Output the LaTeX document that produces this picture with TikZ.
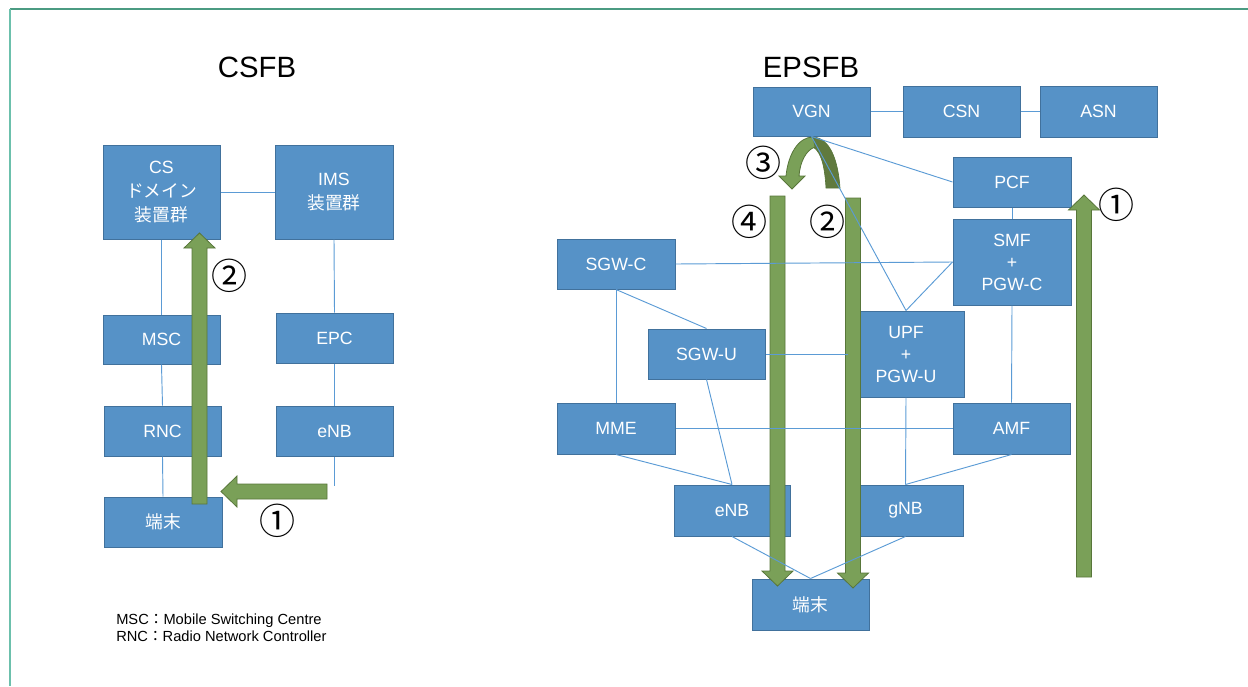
\documentclass[tikz,border=0pt]{standalone}
\usepackage{fontspec}
\setmainfont{Liberation Sans}
\newfontfamily\jp{Noto Sans CJK JP}
\usetikzlibrary{calc}

\definecolor{boxfill}{RGB}{86,146,199}
\definecolor{boxline}{RGB}{65,113,156}
\definecolor{link}{RGB}{91,155,213}
\definecolor{arrfill}{RGB}{122,160,88}
\definecolor{arrline}{RGB}{88,118,58}
\definecolor{arrdark}{RGB}{96,122,62}
\definecolor{frametop}{RGB}{75,155,130}
\definecolor{frameleft}{RGB}{108,192,172}

\tikzset{
  box/.style={draw=boxline, line width=0.75pt, fill=boxfill, text=white,
    font=\fontsize{13.3}{16.5}\selectfont, align=center, inner sep=0pt},
  sz/.style 2 args={minimum width=#1*0.75pt, minimum height=#2*0.75pt},
  link/.style={draw=link, line width=0.7pt},
  fat/.style={fill=arrfill, draw=arrline, line width=0.6pt, line join=miter},
  num/.style={font=\jp\fontsize{27}{27}\selectfont, inner sep=0pt},
  title/.style={font=\fontsize{22}{22}\selectfont, inner sep=0pt},
}

% vertical block arrow: x, tail y, tip y
\newcommand\vfat[3]{%
  \filldraw[fat] ({#1-7.5},#2) -- ({#1-7.5},{#3-15*sign(#3-#2)})
    -- ({#1-15.5},{#3-15*sign(#3-#2)}) -- (#1,#3)
    -- ({#1+15.5},{#3-15*sign(#3-#2)}) -- ({#1+7.5},{#3-15*sign(#3-#2)})
    -- ({#1+7.5},#2) -- cycle;}

\begin{document}
\begin{tikzpicture}[x=0.75pt,y=-0.75pt]
\useasboundingbox (0,0) rectangle (1248,686);

% frame
\draw[frametop, line width=1.2pt] (10,9) -- (1248,9);
\draw[frameleft, line width=1.2pt] (10,9) -- (10,686);

% titles
\node[title] (tcs) at (257,67) {CSFB};
\node[title] (teps) at (811,67) {EPSFB};

% ---------- CSFB ----------
\node[box, sz={117}{94}, font=\fontsize{13.3}{18}\selectfont] (cs) at (161.5,192) {CS\\{\jp ドメイン}\\{\jp 装置群}};
\node[box, sz={118}{94}, font=\fontsize{13.3}{18}\selectfont] (ims) at (334,192) {IMS\\{\jp 装置群}};
\node[box, sz={117}{49}] (msc) at (161.5,339.5) {MSC};
\node[box, sz={117}{50}] (epc) at (334.5,338) {EPC};
\node[box, sz={117}{50}] (rnc) at (162.5,431) {RNC};
\node[box, sz={117}{50}] (enba) at (334.5,431) {eNB};
\node[box, sz={118}{50}] (uea) at (163,522) {\jp 端末};
\coordinate (enbaend) at (334.5,486);

% ---------- EPSFB ----------
\node[box, sz={117}{49}] (vgn) at (811.5,111.5) {VGN};
\node[box, sz={117}{51}] (csn) at (961.5,111.5) {CSN};
\node[box, sz={117}{51}] (asn) at (1098.5,111.5) {ASN};
\node[box, sz={118}{50}] (pcf) at (1012,182) {PCF};
\node[box, sz={118}{86}] (smf) at (1012,262) {SMF\\+\\PGW-C};
\node[box, sz={118}{50}] (sgwc) at (616,264) {SGW-C};
\node[box, sz={117}{50}] (sgwu) at (706.5,354) {SGW-U};
\node[box, sz={116}{86}] (upf) at (906,354) {UPF\\+\\PGW-U};
\node[box, sz={118}{51}] (mme) at (616,428.5) {MME};
\node[box, sz={117}{51}] (amf) at (1011.5,428.5) {AMF};
\node[box, sz={116}{51}] (enbb) at (732,510.5) {eNB};
\node[box, sz={115}{51}] (gnb) at (905.5,510.5) {gNB};
\node[box, sz={117}{51}] (ueb) at (810.5,604.5) {\jp 端末};

% ---------- block arrows ----------
% CSFB (1): horizontal, pointing left
\filldraw[fat] (327,484) -- (237,484) -- (237,476) -- (221,491.5)
  -- (237,507) -- (237,499) -- (327,499) -- cycle;
% CSFB (2)
\vfat{199.5}{504}{233}
% EPSFB (4), (2), (1)
\vfat{777.5}{196}{586}
\vfat{853}{198}{588}
\vfat{1084}{577}{195}
% EPSFB (3): curved arrow below VGN
\filldraw[fill=arrdark, draw=arrline, line width=0.5pt]
  (813,137) .. controls (830,138) and (838,160) .. (840,188)
  -- (826,188) .. controls (825,170) and (822,152) .. (813,147) -- cycle;
\filldraw[fat]
  (792,189) -- (779,176) -- (786,176)
  .. controls (788,155) and (798,137) .. (813,137)
  -- (815,147) .. controls (806,150) and (800,162) .. (799,176)
  -- (805,176) -- cycle;

% ---------- connectors ----------
\draw[link] (cs.east) -- (ims.west);
\draw[link] (cs.south) -- (msc.north);
\draw[link] (msc.south) -- (rnc.north);
\draw[link] (rnc.south) -- (uea.north);
\draw[link] (ims.south) -- (epc.north);
\draw[link] (epc.south) -- (enba.north);
\draw[link] (enba.south) -- (enbaend);

\draw[link] (vgn.east) -- (csn.west);
\draw[link] (csn.east) -- (asn.west);
\draw[link] (vgn.south) -- (pcf.west);
\draw[link] (vgn.south) -- (upf.north);
\draw[link] (smf.west) -- (upf.north);
\draw[link] (sgwc.east) -- (smf.west);
\draw[link] (pcf.south) -- (smf.north);
\draw[link] (smf.south) -- (amf.north);
\draw[link] (sgwc.south) -- (sgwu.north);
\draw[link] (sgwc.south) -- (mme.north);
\draw[link] (sgwu.east) -- (upf.west);
\draw[link] (sgwu.south) -- (enbb.north);
\draw[link] (mme.east) -- (amf.west);
\draw[link] (mme.south) -- (enbb.north);
\draw[link] (upf.south) -- (gnb.north);
\draw[link] (amf.south) -- (gnb.north);
\draw[link] (enbb.south) -- (ueb.north);
\draw[link] (gnb.south) -- (ueb.north);

% ---------- step numbers ----------
\node[num] (n2a) at (229,276) {②};
\node[num] (n1a) at (277,521) {①};
\node[num] (n3b) at (763,163) {③};
\node[num] (n4b) at (749,222) {④};
\node[num] (n2b) at (827,222) {②};
\node[num] (n1b) at (1116,205) {①};

% ---------- legend ----------
\node[anchor=north west, align=left, inner sep=0pt,
  font=\fontsize{11}{12.8}\selectfont] (legend) at (116,614)
  {MSC{\jp ：}Mobile Switching Centre\\RNC{\jp ：}Radio Network Controller};
\end{tikzpicture}
\end{document}
